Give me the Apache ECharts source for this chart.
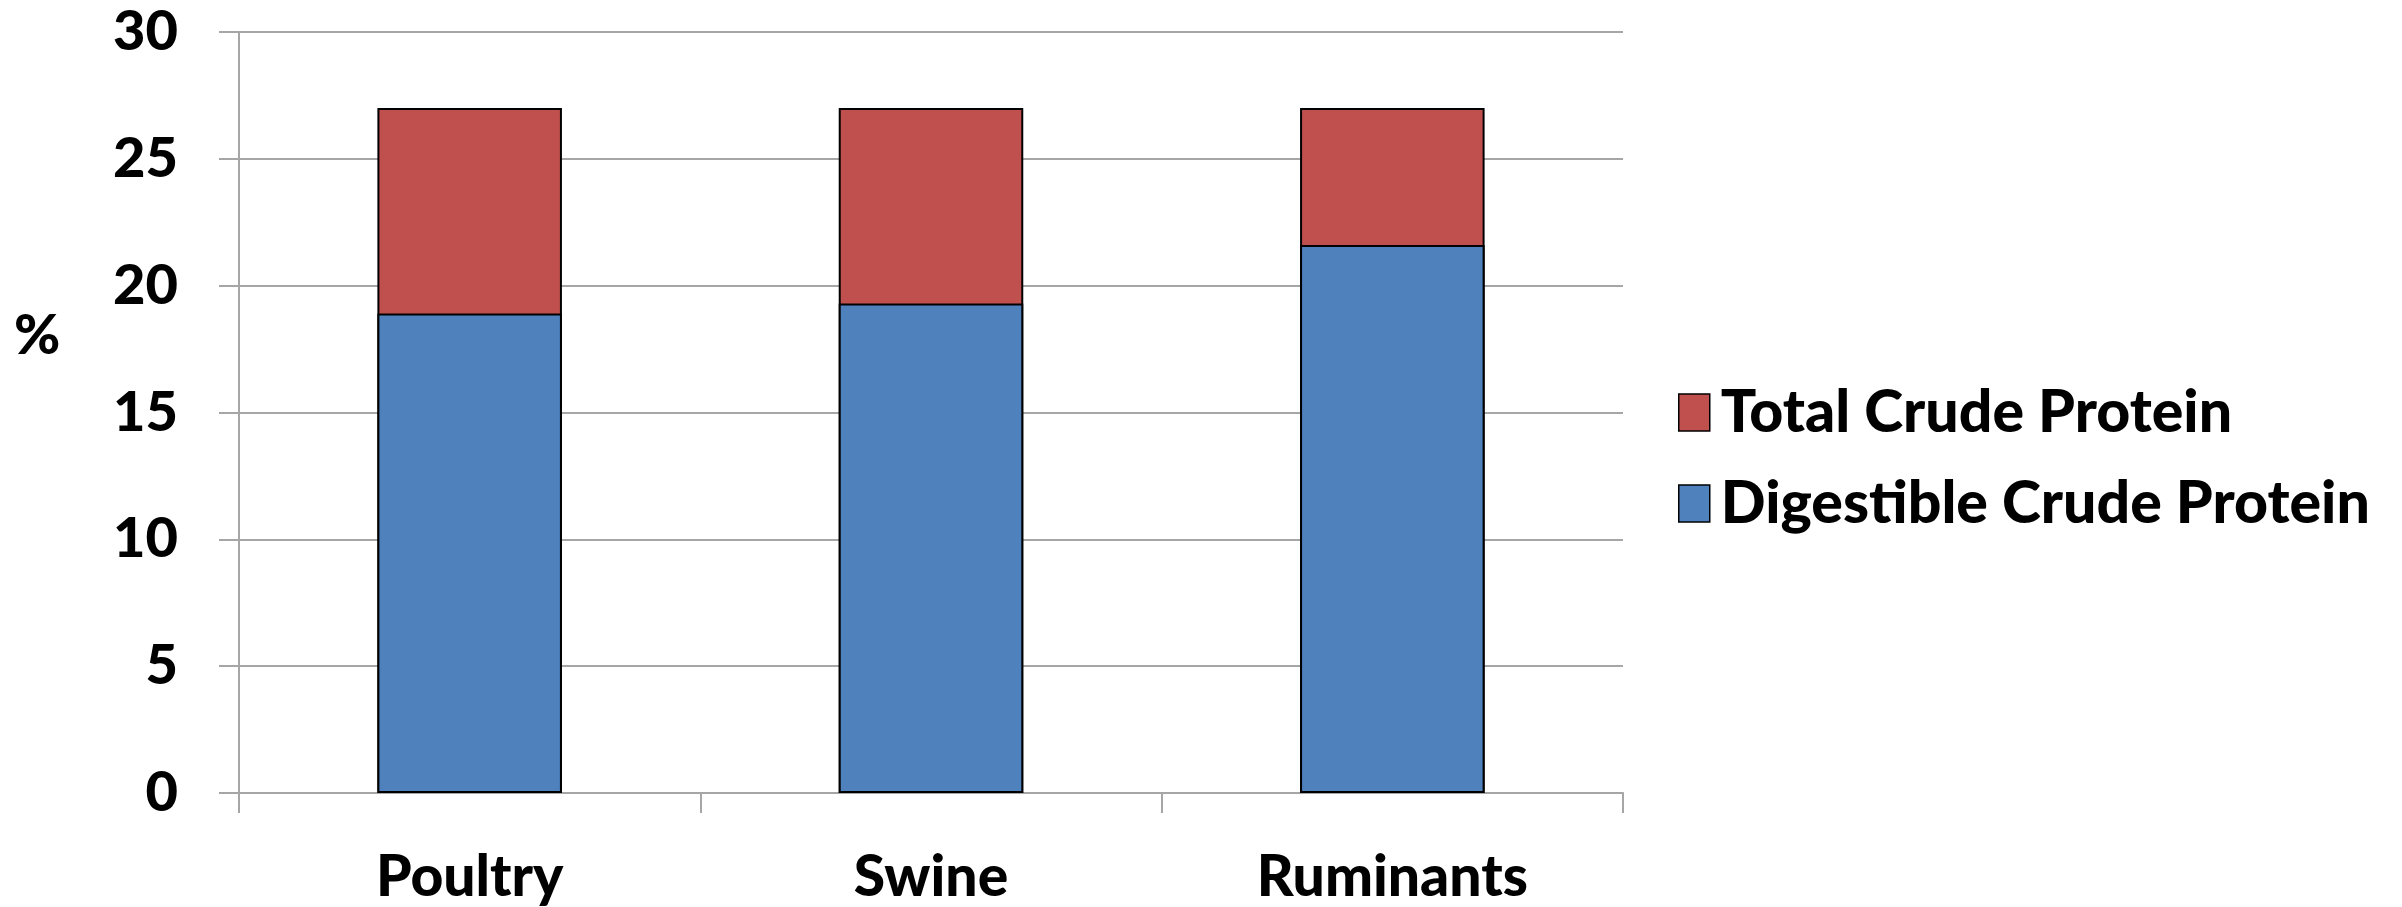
<!DOCTYPE html>
<html>
<head>
<meta charset="utf-8">
<script src="https://cdn.jsdelivr.net/npm/echarts@6/dist/echarts.min.js"></script>
<style>
  html, body { margin: 0; padding: 0; background: #fff; }
  #chart { width: 2402px; height: 907px; }
</style>
</head>
<body>
<div id="chart"></div>
<script>
// Protein content by animal class (%)
const categories = ['Poultry', 'Swine', 'Ruminants'];
const totalCrudeProtein = [27, 27, 27];
const digestibleCrudeProtein = [18.9, 19.3, 21.6];
const yTicks = { min: 0, max: 30, interval: 5 };

const FONT = 'Lato';
const WEIGHT = 900;
const gridColor = '#A6A6A6';

const chart = echarts.init(document.getElementById('chart'));
chart.setOption({
  animation: false,
  backgroundColor: '#ffffff',
  grid: { left: 239, right: 779, top: 32, bottom: 114, containLabel: false },
  legend: {
    orient: 'vertical',
    left: 1673,
    top: 378,
    itemWidth: 31,
    itemHeight: 37,
    itemGap: 32,
    icon: 'rect',
    data: ['Total Crude Protein', 'Digestible Crude Protein'],
    textStyle: { fontFamily: FONT, fontWeight: WEIGHT, fontSize: 59, color: '#000', padding: [0, 0, 0, 6] },
    itemStyle: { borderColor: '#000', borderWidth: 1.5 }
  },
  xAxis: {
    type: 'category',
    data: categories,
    boundaryGap: true,
    axisLine: { show: true, lineStyle: { color: gridColor, width: 2 } },
    axisTick: { show: true, length: 20, inside: false, lineStyle: { color: gridColor, width: 2 } },
    axisLabel: { margin: 56, fontFamily: FONT, fontWeight: WEIGHT, fontSize: 57, color: '#000' }
  },
  yAxis: {
    type: 'value',
    min: yTicks.min,
    max: yTicks.max,
    interval: yTicks.interval,
    axisLine: { show: true, lineStyle: { color: gridColor, width: 2 } },
    axisTick: { show: true, length: 20, lineStyle: { color: gridColor, width: 2 } },
    axisLabel: { margin: 61, fontFamily: FONT, fontWeight: WEIGHT, fontSize: 56, color: '#000' },
    splitLine: { show: true, lineStyle: { color: gridColor, width: 2 } }
  },
  graphic: [{
    type: 'text',
    left: 14,
    top: 308,
    style: { text: '%', fontFamily: FONT, fontWeight: WEIGHT, fontSize: 56, fill: '#000' }
  }],
  series: [
    {
      name: 'Total Crude Protein',
      type: 'bar',
      data: totalCrudeProtein,
      barWidth: '40%',
      itemStyle: { color: '#C0504D', borderColor: '#000', borderWidth: 2 }
    },
    {
      name: 'Digestible Crude Protein',
      type: 'bar',
      data: digestibleCrudeProtein,
      barWidth: '40%',
      barGap: '-100%',
      itemStyle: { color: '#4F81BD', borderColor: '#000', borderWidth: 2 }
    }
  ]
});
</script>
</body>
</html>
